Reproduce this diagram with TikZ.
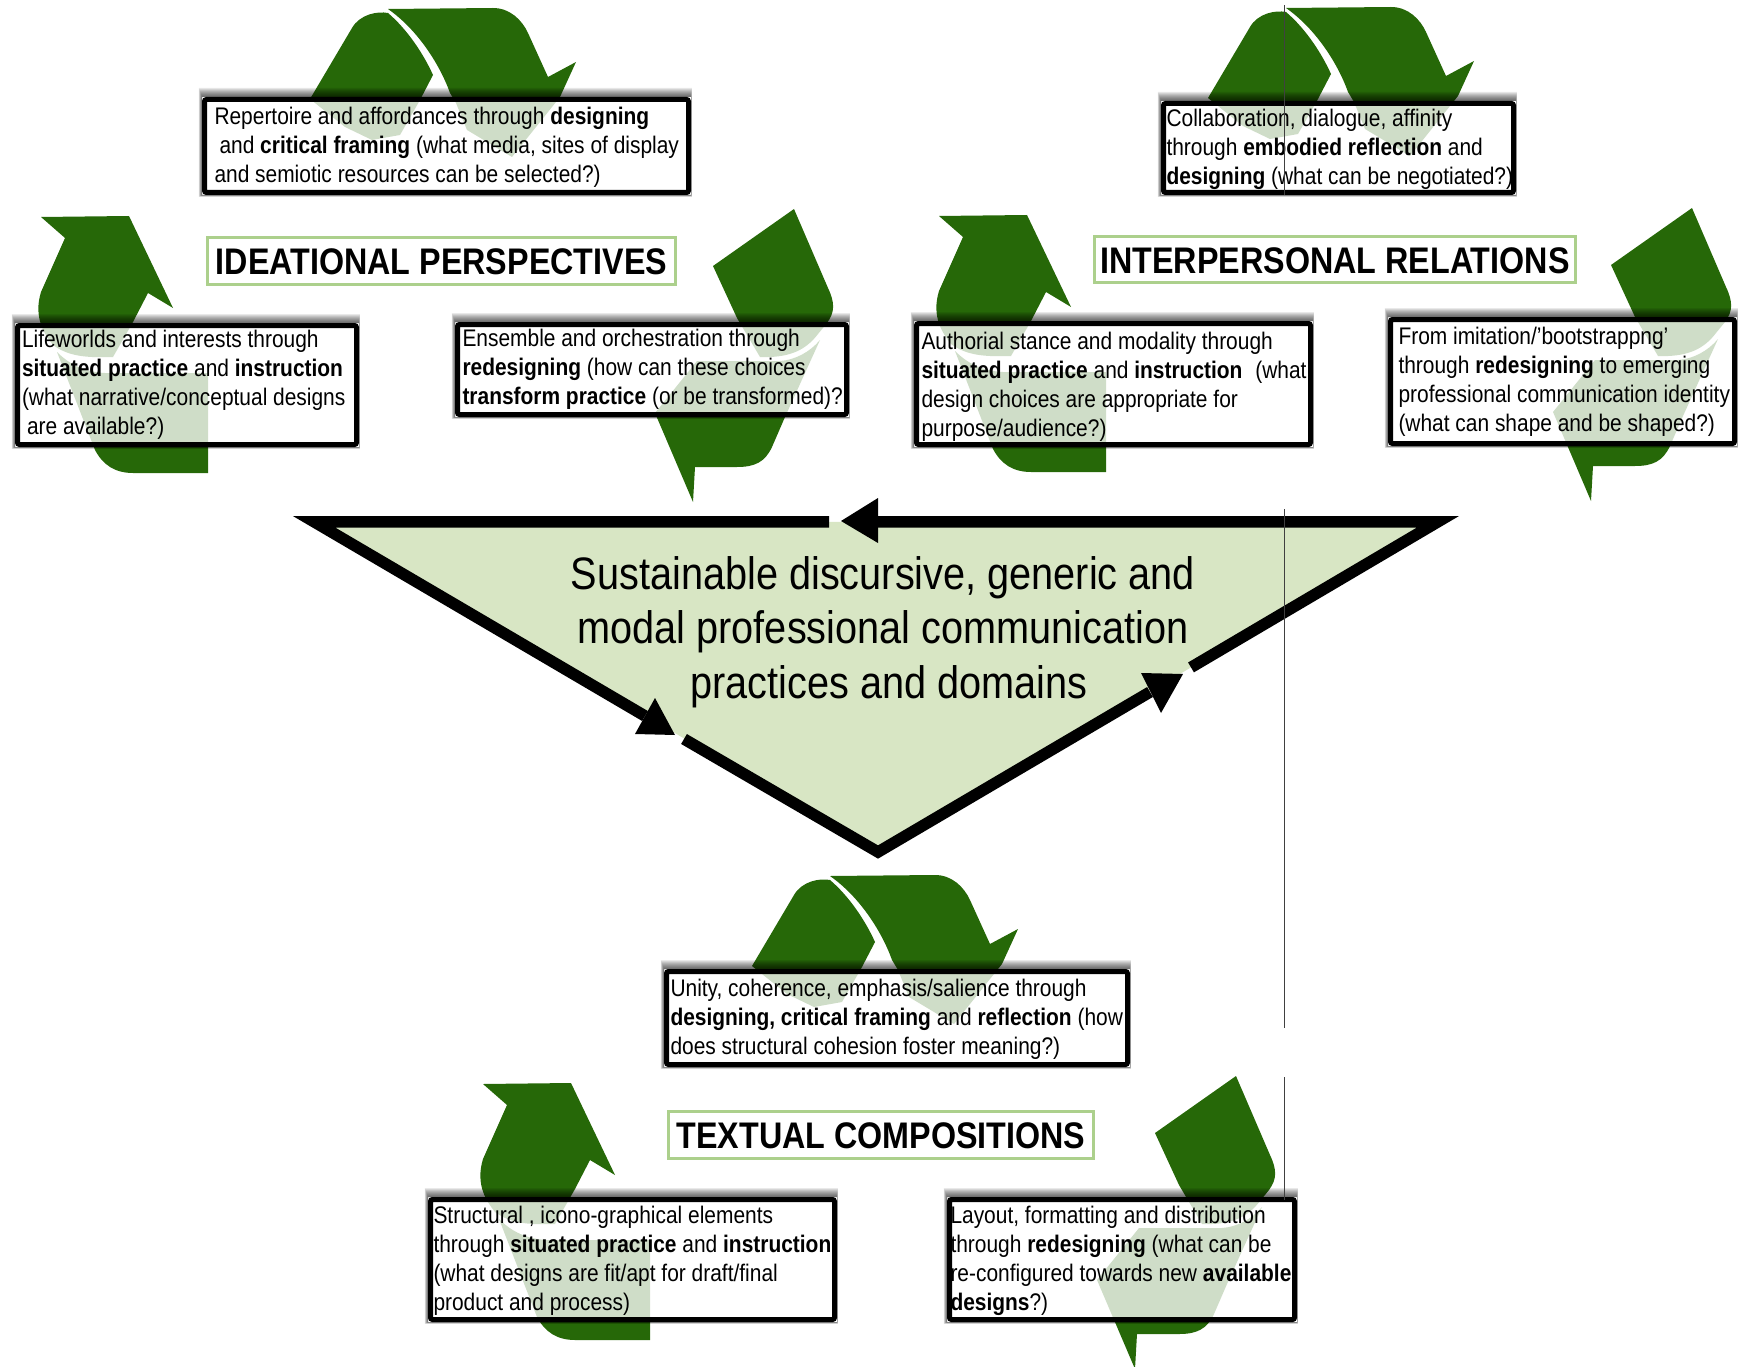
\documentclass[tikz,border=0pt]{standalone}
\usepackage{fontspec}
\setmainfont{Liberation Sans}[FakeStretch=0.872]
\definecolor{recgreen}{RGB}{38,104,8}
\definecolor{trifill}{RGB}{216,230,196}
\definecolor{headline}{RGB}{172,208,140}
\tikzset{
  recarrow/.style={fill=recgreen,draw=none},
  txtbox/.style={draw=black,line width=5pt,fill=white,fill opacity=.78,draw opacity=1,text opacity=1,rounded corners=2pt,inner sep=0pt,outer sep=0pt,text=black},
  headbox/.style={draw=headline,line width=3pt,fill=white,inner sep=0pt,outer sep=0pt,text=black,font=\fontsize{37}{40}\selectfont\bfseries},
  triline/.style={draw=black,line width=11.5pt,miter limit=20,line cap=butt,line join=miter},
  trihead/.style={fill=black,draw=none},
  artefact/.style={draw=black!75,line width=.8pt},
  bodytxt/.style={font=\fontsize{24}{29}\selectfont}
}
\newcommand{\recycle}[2]{%
  \begin{scope}[shift={(#1,#2)}]
    \path[recarrow] (310,99) -- (352,28) .. controls (360,14) and (378,11) .. (388,13) .. controls (408,30) and (424,55) .. (433,75) -- (420,100) -- (400,135) -- (372,140) -- (345,127) -- cycle;
    \path[recarrow] (388,9) -- (493,8) .. controls (510,8) and (522,20) .. (528,33) -- (548,77) -- (576,62) -- (560,97) -- (512,157) -- (467,130) -- (456,103) -- (450,93) .. controls (440,65) and (418,30) .. (388,9) -- cycle;
    \path[recarrow] (41,217) -- (129,216) -- (173,308) -- (148,293) -- (133,322) -- (113,357) .. controls (85,358) and (68,356) .. (53,345) .. controls (45,335) and (33,318) .. (41,292) -- (65,238) -- cycle;
    \path[recarrow] (57,352) .. controls (70,365) and (85,372) .. (105,373) -- (208,373) -- (208,473) -- (133,473) .. controls (115,473) and (103,465) .. (95,450) -- cycle;
    \path[recarrow] (794,209) -- (828,288) .. controls (835,303) and (835,312) .. (827,323) -- (818,334) .. controls (808,347) and (795,356) .. (770,357) -- (760,357) -- (737,318) -- (713,266) -- cycle;
    \path[recarrow] (693,502) -- (695,467) -- (737,467) .. controls (755,467) and (765,462) .. (772,447) -- (785,417) -- (820,340) .. controls (810,352) and (795,360) .. (780,361) -- (697,361) -- (655,413) -- cycle;
  \end{scope}}
% name, x1,y1,x2,y2, left pad, text drop, lines
\newcommand{\tbox}[8]{%
  \foreach \g in {1,2,...,9}{%
    \fill[black,opacity=.085,even odd rule] ({#2-.35*\g},{#3-\g}) rectangle ({#4+.1*\g},{#5+.2*\g}) (#2,#3) rectangle (#4,#5);}
  \pgfmathsetlengthmacro{\tw}{#4-#2-5}%
  \node[txtbox,bodytxt,minimum width={#4-#2-5},minimum height={#5-#3-5}] (#1) at ({(#2+#4)/2},{(#3+#5)/2})
    {\makebox[\tw][l]{\hspace*{#6pt}\raisebox{-#7pt}[\height][\depth]{\begin{tabular}{@{}l@{}}#8\end{tabular}}}};}
\newcommand{\hdbox}[6]{%
  \node[headbox,minimum width={#4-#2-3},minimum height={#5-#3-3}] (#1) at ({(#2+#4)/2},{(#3+#5)/2}) {\raisebox{-1pt}[\height][\depth]{#6}};}
\begin{document}
\begin{tikzpicture}[x=1pt,y=-1pt]
\useasboundingbox (0,0) rectangle (1740,1367);
\recycle{0}{0}
\recycle{898}{-1}
\recycle{442}{867}
% central triangle
\coordinate (tl) at (314,521.75);
\coordinate (tr) at (1438,521.75);
\coordinate (ap) at (878,852);
\fill[trifill] (tl) -- (tr) -- (ap) -- cycle;
\coordinate (topgapL) at (829,521.75);
\coordinate (topbase) at (878,521.75);
\coordinate (leftin) at (645,716);
\coordinate (leftout) at (684,739);
\coordinate (rightin) at (1150,692);
\coordinate (rightout) at (1191,667.4);
\draw[triline] (topgapL) -- (tl) -- (leftin);
\draw[triline] (leftout) -- (ap) -- (rightin);
\draw[triline] (rightout) -- (tr) -- (topbase);
\fill[trihead] (841,521) -- (878,498) -- (878,543) -- cycle;
\fill[trihead] (675,735) -- (635,734) -- (655,698) -- cycle;
\fill[trihead] (1183,674) -- (1141,673) -- (1161,713) -- cycle;
\node[align=center,font=\fontsize{45.5}{54.5}\selectfont,inner sep=0pt] (centre) at (883,632)
  {Sustainable discursive, generic and\\modal professional communication\\\hspace*{12pt}practices and domains};
% headings
\hdbox{headA}{206}{236}{677}{286}{IDEATIONAL PERSPECTIVES}
\hdbox{headB}{1093}{235}{1577}{284}{INTERPERSONAL RELATIONS}
\hdbox{headC}{667}{1110}{1095}{1160}{TEXTUAL COMPOSITIONS}
% boxes
\tbox{a1}{202}{97}{691}{195}{10}{2.2}{Repertoire and affordances through \textbf{designing}\\\hspace*{5pt}and \textbf{critical framing} (what media, sites of display\\and semiotic resources can be selected?)}
\tbox{a2}{15}{323}{359}{447}{4.5}{0}{Lifeworlds and interests through\\\textbf{situated practice} and \textbf{instruction}\\(what narrative/conceptual designs\\\hspace*{5pt}are available?)}
\tbox{a3}{455}{322}{849}{417}{5}{0}{Ensemble and orchestration through\\\textbf{redesigning} (how can these choices\\\textbf{transform practice} (or be transformed)?}
\tbox{b1}{1161}{101}{1516}{195}{3}{2.2}{Collaboration, dialogue, affinity\\through \textbf{embodied reflection} and\\\textbf{designing} (what can be negotiated?)}
\tbox{b2}{914}{321}{1313}{447}{5}{3.3}{Authorial stance and modality through\\\textbf{situated practice} and \textbf{instruction}\hspace*{7pt} (what\\design choices are appropriate for\\purpose/audience?)}
\tbox{b3}{1388}{317}{1737}{446}{8}{1}{From imitation/’bootstrappng’\\through \textbf{redesigning} to emerging\\professional communication identity\\(what can shape and be shaped?)}
\tbox{c1}{664}{969}{1130}{1067}{4}{1.2}{Unity, coherence, emphasis/salience through\\\textbf{designing, critical framing} and \textbf{reflection} (how\\does structural cohesion foster meaning?)}
\tbox{c2}{428}{1197}{837}{1322}{3}{1.2}{Structural , icono-graphical elements\\through \textbf{situated practice} and \textbf{instruction}\\(what designs are fit/apt for draft/final\\product and process)}
\tbox{c3}{947}{1197}{1297}{1322}{1}{1.2}{Layout, formatting and distribution\\through \textbf{redesigning} (what can be\\re-configured towards new \textbf{available}\\\textbf{designs}?)}
% thin vertical rule on top
\coordinate (v1) at (1284,5);
\coordinate (v2) at (1284,195);
\coordinate (v3) at (1284,509);
\coordinate (v4) at (1284,1028);
\coordinate (v5) at (1284,1077);
\coordinate (v6) at (1284,1200);
\draw[artefact] (v1) -- (v2) (v3) -- (v4) (v5) -- (v6);
\end{tikzpicture}
\end{document}
